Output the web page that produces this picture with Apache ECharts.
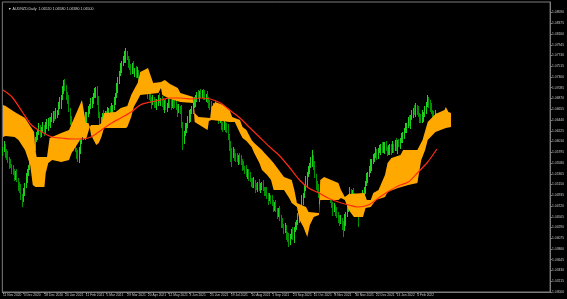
<!DOCTYPE html>
<html><head><meta charset="utf-8">
<script src="https://cdn.jsdelivr.net/npm/echarts@6/dist/echarts.min.js"></script>
<style>html,body{margin:0;padding:0;background:#000;}#c{width:567px;height:299px;}</style>
</head><body><div id="c"></div>
<script>
const titleText = '\u25BC AUDNZD,Daily  1.06520 1.06580 1.06380 1.06500';
const lastPrice = 1.0650;
const tickLabels = ['11 Nov 2020','3 Dec 2020','28 Dec 2020','20 Jan 2021','11 Feb 2021','5 Mar 2021','29 Mar 2021','20 Apr 2021','12 May 2021','3 Jun 2021','25 Jun 2021','19 Jul 2021','10 Aug 2021','1 Sep 2021','23 Sep 2021','15 Oct 2021','8 Nov 2021','30 Nov 2021','22 Dec 2021','13 Jan 2022','4 Feb 2022'];
const barsPerLabel = 16;
const slotCount = 423;

const opens = [
1.0580,1.0584,1.0592,1.0578,1.0570,1.0564,1.0558,1.0552,1.0544,1.0540,
1.0532,1.0536,1.0524,1.0512,1.0504,1.0490,1.0484,1.0500,1.0514,1.0528,
1.0540,1.0548,1.0554,1.0568,1.0584,1.0594,1.0604,1.0612,1.0620,1.0628,
1.0618,1.0624,1.0630,1.0622,1.0632,1.0634,1.0642,1.0636,1.0646,1.0648,
1.0656,1.0650,1.0658,1.0660,1.0672,1.0678,1.0688,1.0704,1.0716,1.0708,
1.0694,1.0684,1.0664,1.0644,1.0628,1.0610,1.0594,1.0584,1.0574,1.0568,
1.0584,1.0600,1.0614,1.0628,1.0636,1.0648,1.0654,1.0664,1.0672,1.0678,
1.0684,1.0692,1.0698,1.0704,1.0680,1.0654,1.0634,1.0642,1.0654,1.0648,
1.0656,1.0652,1.0660,1.0664,1.0658,1.0666,1.0668,1.0682,1.0694,1.0708,
1.0724,1.0736,1.0748,1.0758,1.0764,1.0770,1.0774,1.0768,1.0756,1.0750,
1.0744,1.0752,1.0740,1.0744,1.0734,1.0738,1.0730,1.0728,1.0724,1.0716,
1.0720,1.0714,1.0704,1.0696,1.0690,1.0684,1.0678,1.0686,1.0676,1.0674,
1.0680,1.0688,1.0682,1.0684,1.0676,1.0670,1.0678,1.0668,1.0674,1.0682,
1.0678,1.0672,1.0680,1.0676,1.0674,1.0670,1.0662,1.0668,1.0664,1.0634,
1.0604,1.0616,1.0628,1.0634,1.0644,1.0652,1.0660,1.0664,1.0674,1.0680,
1.0688,1.0694,1.0690,1.0698,1.0694,1.0700,1.0696,1.0688,1.0692,1.0684,
1.0678,1.0672,1.0668,1.0664,1.0670,1.0662,1.0660,1.0652,1.0644,1.0648,
1.0634,1.0628,1.0636,1.0630,1.0624,1.0610,1.0594,1.0584,1.0574,1.0580,
1.0572,1.0568,1.0564,1.0570,1.0562,1.0560,1.0554,1.0548,1.0544,1.0536,
1.0540,1.0530,1.0524,1.0520,1.0514,1.0518,1.0510,1.0508,1.0516,1.0508,
1.0512,1.0514,1.0506,1.0502,1.0498,1.0492,1.0486,1.0490,1.0484,1.0478,
1.0470,1.0474,1.0464,1.0456,1.0460,1.0448,1.0440,1.0432,1.0424,1.0428,
1.0414,1.0408,1.0404,1.0412,1.0418,1.0410,1.0424,1.0432,1.0440,1.0448,
1.0454,1.0468,1.0484,1.0494,1.0508,1.0520,1.0534,1.0544,1.0554,1.0560,
1.0568,1.0552,1.0532,1.0514,1.0504,1.0494,1.0488,1.0496,1.0492,1.0500,
1.0504,1.0498,1.0502,1.0494,1.0484,1.0474,1.0464,1.0470,1.0460,1.0454,
1.0448,1.0440,1.0444,1.0434,1.0428,1.0444,1.0454,1.0468,1.0484,1.0500,
1.0492,1.0498,1.0494,1.0484,1.0472,1.0464,1.0454,1.0460,1.0476,1.0494,
1.0504,1.0516,1.0528,1.0536,1.0544,1.0554,1.0560,1.0568,1.0574,1.0580,
1.0574,1.0582,1.0584,1.0592,1.0584,1.0588,1.0594,1.0586,1.0580,1.0584,
1.0590,1.0582,1.0592,1.0588,1.0596,1.0588,1.0598,1.0594,1.0604,1.0608,
1.0614,1.0622,1.0628,1.0634,1.0642,1.0638,1.0648,1.0656,1.0664,1.0660,
1.0668,1.0662,1.0654,1.0648,1.0644,1.0652,1.0654,1.0664,1.0676,1.0684,
1.0678,1.0668,1.0660,1.0654,1.0646,1.0652];

const closes = [
1.0584,1.0592,1.0578,1.0570,1.0564,1.0558,1.0552,1.0544,1.0540,1.0532,
1.0536,1.0524,1.0512,1.0504,1.0490,1.0484,1.0500,1.0514,1.0528,1.0540,
1.0548,1.0554,1.0568,1.0584,1.0594,1.0604,1.0612,1.0620,1.0628,1.0618,
1.0624,1.0630,1.0622,1.0632,1.0634,1.0642,1.0636,1.0646,1.0648,1.0656,
1.0650,1.0658,1.0660,1.0672,1.0678,1.0688,1.0704,1.0716,1.0708,1.0694,
1.0684,1.0664,1.0644,1.0628,1.0610,1.0594,1.0584,1.0574,1.0568,1.0584,
1.0600,1.0614,1.0628,1.0636,1.0648,1.0654,1.0664,1.0672,1.0678,1.0684,
1.0692,1.0698,1.0704,1.0680,1.0654,1.0634,1.0642,1.0654,1.0648,1.0656,
1.0652,1.0660,1.0664,1.0658,1.0666,1.0668,1.0682,1.0694,1.0708,1.0724,
1.0736,1.0748,1.0758,1.0764,1.0770,1.0774,1.0768,1.0756,1.0750,1.0744,
1.0752,1.0740,1.0744,1.0734,1.0738,1.0730,1.0728,1.0724,1.0716,1.0720,
1.0714,1.0704,1.0696,1.0690,1.0684,1.0678,1.0686,1.0676,1.0674,1.0680,
1.0688,1.0682,1.0684,1.0676,1.0670,1.0678,1.0668,1.0674,1.0682,1.0678,
1.0672,1.0680,1.0676,1.0674,1.0670,1.0662,1.0668,1.0664,1.0634,1.0604,
1.0616,1.0628,1.0634,1.0644,1.0652,1.0660,1.0664,1.0674,1.0680,1.0688,
1.0694,1.0690,1.0698,1.0694,1.0700,1.0696,1.0688,1.0692,1.0684,1.0678,
1.0672,1.0668,1.0664,1.0670,1.0662,1.0660,1.0652,1.0644,1.0648,1.0634,
1.0628,1.0636,1.0630,1.0624,1.0610,1.0594,1.0584,1.0574,1.0580,1.0572,
1.0568,1.0564,1.0570,1.0562,1.0560,1.0554,1.0548,1.0544,1.0536,1.0540,
1.0530,1.0524,1.0520,1.0514,1.0518,1.0510,1.0508,1.0516,1.0508,1.0512,
1.0514,1.0506,1.0502,1.0498,1.0492,1.0486,1.0490,1.0484,1.0478,1.0470,
1.0474,1.0464,1.0456,1.0460,1.0448,1.0440,1.0432,1.0424,1.0428,1.0414,
1.0408,1.0404,1.0412,1.0418,1.0410,1.0424,1.0432,1.0440,1.0448,1.0454,
1.0468,1.0484,1.0494,1.0508,1.0520,1.0534,1.0544,1.0554,1.0560,1.0568,
1.0552,1.0532,1.0514,1.0504,1.0494,1.0488,1.0496,1.0492,1.0500,1.0504,
1.0498,1.0502,1.0494,1.0484,1.0474,1.0464,1.0470,1.0460,1.0454,1.0448,
1.0440,1.0444,1.0434,1.0428,1.0444,1.0454,1.0468,1.0484,1.0500,1.0492,
1.0498,1.0494,1.0484,1.0472,1.0464,1.0454,1.0460,1.0476,1.0494,1.0504,
1.0516,1.0528,1.0536,1.0544,1.0554,1.0560,1.0568,1.0574,1.0580,1.0574,
1.0582,1.0584,1.0592,1.0584,1.0588,1.0594,1.0586,1.0580,1.0584,1.0590,
1.0582,1.0592,1.0588,1.0596,1.0588,1.0598,1.0594,1.0604,1.0608,1.0614,
1.0622,1.0628,1.0634,1.0642,1.0638,1.0648,1.0656,1.0664,1.0660,1.0668,
1.0662,1.0654,1.0648,1.0644,1.0652,1.0654,1.0664,1.0676,1.0684,1.0678,
1.0668,1.0660,1.0654,1.0646,1.0652,1.0650];

const lows = [
1.0572,1.0580,1.0568,1.0564,1.0558,1.0546,1.0548,1.0536,1.0534,1.0522,
1.0524,1.0520,1.0502,1.0498,1.0484,1.0470,1.0480,1.0492,1.0508,1.0518,
1.0532,1.0544,1.0544,1.0562,1.0578,1.0582,1.0600,1.0604,1.0614,1.0608,
1.0610,1.0620,1.0612,1.0616,1.0626,1.0622,1.0632,1.0628,1.0640,1.0638,
1.0642,1.0646,1.0648,1.0654,1.0666,1.0666,1.0684,1.0696,1.0702,1.0684,
1.0676,1.0660,1.0634,1.0622,1.0604,1.0582,1.0580,1.0566,1.0560,1.0558,
1.0576,1.0596,1.0604,1.0622,1.0630,1.0636,1.0650,1.0656,1.0666,1.0668,
1.0676,1.0688,1.0688,1.0674,1.0648,1.0622,1.0630,1.0634,1.0642,1.0638,
1.0644,1.0648,1.0650,1.0652,1.0652,1.0654,1.0664,1.0674,1.0688,1.0698,
1.0716,1.0732,1.0738,1.0752,1.0758,1.0758,1.0764,1.0748,1.0744,1.0734,
1.0736,1.0736,1.0730,1.0728,1.0728,1.0718,1.0724,1.0716,1.0710,1.0706,
1.0706,1.0700,1.0686,1.0684,1.0678,1.0666,1.0674,1.0668,1.0668,1.0664,
1.0672,1.0678,1.0672,1.0670,1.0664,1.0658,1.0664,1.0660,1.0668,1.0668,
1.0664,1.0668,1.0666,1.0668,1.0664,1.0650,1.0658,1.0656,1.0628,1.0584,
1.0596,1.0612,1.0618,1.0628,1.0638,1.0640,1.0656,1.0656,1.0668,1.0670,
1.0680,1.0686,1.0680,1.0688,1.0688,1.0684,1.0684,1.0680,1.0678,1.0668,
1.0664,1.0664,1.0654,1.0658,1.0656,1.0648,1.0648,1.0636,1.0638,1.0624,
1.0620,1.0624,1.0620,1.0618,1.0604,1.0582,1.0560,1.0550,1.0568,1.0562,
1.0560,1.0560,1.0554,1.0556,1.0554,1.0542,1.0544,1.0536,1.0530,1.0526,
1.0522,1.0520,1.0510,1.0508,1.0508,1.0498,1.0504,1.0500,1.0502,1.0498,
1.0504,1.0502,1.0492,1.0492,1.0486,1.0474,1.0482,1.0476,1.0472,1.0460,
1.0462,1.0460,1.0446,1.0450,1.0442,1.0428,1.0428,1.0416,1.0418,1.0404,
1.0400,1.0390,1.0394,1.0406,1.0404,1.0398,1.0420,1.0424,1.0434,1.0438,
1.0446,1.0464,1.0474,1.0488,1.0502,1.0508,1.0530,1.0536,1.0548,1.0550,
1.0544,1.0528,1.0504,1.0498,1.0488,1.0476,1.0484,1.0484,1.0486,1.0490,
1.0490,1.0494,1.0484,1.0478,1.0468,1.0452,1.0460,1.0452,1.0448,1.0438,
1.0432,1.0436,1.0424,1.0410,1.0422,1.0432,1.0450,1.0460,1.0478,1.0482,
1.0484,1.0490,1.0474,1.0466,1.0458,1.0430,1.0450,1.0452,1.0470,1.0484,
1.0496,1.0512,1.0518,1.0530,1.0538,1.0542,1.0556,1.0560,1.0568,1.0564,
1.0566,1.0578,1.0574,1.0578,1.0578,1.0576,1.0582,1.0572,1.0574,1.0574,
1.0574,1.0578,1.0578,1.0582,1.0582,1.0576,1.0590,1.0586,1.0598,1.0598,
1.0606,1.0618,1.0618,1.0628,1.0632,1.0626,1.0644,1.0648,1.0654,1.0650,
1.0654,1.0650,1.0638,1.0638,1.0638,1.0640,1.0650,1.0656,1.0670,1.0668,
1.0660,1.0656,1.0644,1.0640,1.0640,1.0638];

const highs = [
1.0590,1.0602,1.0596,1.0586,1.0582,1.0570,1.0566,1.0556,1.0554,1.0546,
1.0542,1.0546,1.0528,1.0520,1.0516,1.0496,1.0508,1.0518,1.0538,1.0546,
1.0554,1.0564,1.0572,1.0592,1.0606,1.0610,1.0620,1.0624,1.0638,1.0634,
1.0630,1.0640,1.0634,1.0640,1.0646,1.0648,1.0650,1.0650,1.0658,1.0662,
1.0662,1.0668,1.0664,1.0680,1.0690,1.0694,1.0712,1.0724,1.0726,1.0714,
1.0700,1.0694,1.0668,1.0652,1.0640,1.0616,1.0602,1.0588,1.0584,1.0590,
1.0606,1.0624,1.0632,1.0644,1.0660,1.0660,1.0672,1.0676,1.0688,1.0690,
1.0698,1.0708,1.0710,1.0712,1.0692,1.0660,1.0650,1.0658,1.0664,1.0662,
1.0662,1.0670,1.0668,1.0672,1.0678,1.0674,1.0690,1.0698,1.0718,1.0730,
1.0742,1.0758,1.0762,1.0772,1.0782,1.0788,1.0782,1.0772,1.0766,1.0756,
1.0758,1.0762,1.0748,1.0752,1.0750,1.0744,1.0738,1.0732,1.0734,1.0726,
1.0726,1.0724,1.0708,1.0704,1.0702,1.0690,1.0694,1.0690,1.0686,1.0686,
1.0694,1.0698,1.0688,1.0692,1.0688,1.0684,1.0686,1.0678,1.0692,1.0688,
1.0684,1.0690,1.0684,1.0684,1.0686,1.0676,1.0676,1.0672,1.0674,1.0640,
1.0622,1.0638,1.0638,1.0652,1.0664,1.0666,1.0672,1.0678,1.0690,1.0694,
1.0700,1.0704,1.0702,1.0706,1.0704,1.0706,1.0704,1.0696,1.0702,1.0690,
1.0684,1.0682,1.0672,1.0678,1.0682,1.0668,1.0668,1.0656,1.0658,1.0654,
1.0640,1.0646,1.0640,1.0638,1.0636,1.0616,1.0602,1.0588,1.0590,1.0586,
1.0578,1.0578,1.0574,1.0578,1.0574,1.0566,1.0562,1.0552,1.0554,1.0546,
1.0546,1.0540,1.0528,1.0528,1.0530,1.0524,1.0518,1.0520,1.0526,1.0518,
1.0520,1.0524,1.0510,1.0510,1.0510,1.0498,1.0498,1.0494,1.0494,1.0484,
1.0480,1.0484,1.0468,1.0468,1.0472,1.0454,1.0448,1.0436,1.0438,1.0434,
1.0420,1.0418,1.0416,1.0426,1.0430,1.0430,1.0440,1.0444,1.0458,1.0460,
1.0474,1.0494,1.0498,1.0516,1.0532,1.0540,1.0552,1.0558,1.0570,1.0584,
1.0574,1.0562,1.0536,1.0522,1.0516,1.0500,1.0504,1.0500,1.0510,1.0510,
1.0510,1.0512,1.0506,1.0502,1.0496,1.0480,1.0478,1.0474,1.0470,1.0460,
1.0454,1.0454,1.0448,1.0442,1.0456,1.0460,1.0476,1.0488,1.0510,1.0506,
1.0504,1.0508,1.0498,1.0492,1.0484,1.0470,1.0468,1.0480,1.0504,1.0510,
1.0522,1.0538,1.0540,1.0552,1.0566,1.0566,1.0576,1.0578,1.0590,1.0586,
1.0588,1.0594,1.0596,1.0600,1.0600,1.0600,1.0602,1.0590,1.0594,1.0596,
1.0596,1.0602,1.0596,1.0604,1.0608,1.0604,1.0606,1.0608,1.0618,1.0620,
1.0628,1.0638,1.0638,1.0650,1.0654,1.0654,1.0664,1.0668,1.0674,1.0678,
1.0674,1.0672,1.0658,1.0656,1.0664,1.0660,1.0672,1.0680,1.0694,1.0690,
1.0684,1.0678,1.0664,1.0662,1.0664,1.0658];

// Cloud envelope: [bar index, price]
const cloudTop = [[0,1.0674],[2,1.0672],[9,1.0660],[17,1.0648],[24,1.0620],[25,1.0584],[26,1.0570],[34,1.0570],[36,1.0608],[45,1.0618],[51,1.0624],[61,1.0684],[64,1.0638],[66,1.0638],[67,1.0630],[68,1.0634],[74,1.0634],[76,1.0638],[78,1.0658],[87,1.0660],[91,1.0668],[96,1.0672],[99,1.0694],[101,1.0704],[104,1.0718],[106,1.0740],[112,1.0748],[116,1.0718],[122,1.0720],[125,1.0724],[129,1.0716],[135,1.0708],[137,1.0698],[147,1.0690],[148,1.0658],[151,1.0650],[160,1.0648],[161,1.0670],[164,1.0680],[170,1.0674],[175,1.0664],[177,1.0650],[183,1.0644],[185,1.0630],[188,1.0624],[192,1.0604],[194,1.0598],[200,1.0584],[202,1.0578],[207,1.0564],[209,1.0558],[213,1.0544],[217,1.0530],[223,1.0524],[225,1.0504],[227,1.0478],[234,1.0470],[236,1.0460],[244,1.0458],[245,1.0524],[248,1.0530],[259,1.0518],[261,1.0504],[264,1.0490],[267,1.0496],[279,1.0498],[281,1.0484],[284,1.0484],[286,1.0498],[290,1.0504],[295,1.0534],[297,1.0558],[300,1.0568],[307,1.0574],[309,1.0584],[320,1.0584],[324,1.0604],[328,1.0640],[334,1.0656],[341,1.0664],[342,1.0670],[344,1.0660],[346,1.0658]];
const cloudBottom = [[0,1.0610],[2,1.0612],[9,1.0610],[12,1.0604],[17,1.0584],[21,1.0554],[23,1.0514],[25,1.0510],[32,1.0510],[33,1.0538],[35,1.0558],[38,1.0564],[45,1.0560],[51,1.0564],[53,1.0578],[61,1.0610],[64,1.0604],[67,1.0630],[68,1.0614],[72,1.0594],[74,1.0598],[76,1.0610],[78,1.0628],[95,1.0628],[96,1.0630],[99,1.0650],[101,1.0670],[104,1.0684],[106,1.0694],[120,1.0698],[122,1.0708],[123,1.0694],[129,1.0686],[137,1.0680],[147,1.0678],[148,1.0640],[158,1.0624],[159,1.0642],[161,1.0644],[175,1.0640],[179,1.0640],[183,1.0618],[185,1.0608],[188,1.0602],[192,1.0590],[194,1.0578],[198,1.0558],[200,1.0544],[204,1.0534],[207,1.0524],[209,1.0504],[217,1.0504],[221,1.0488],[223,1.0478],[227,1.0470],[229,1.0444],[232,1.0430],[235,1.0410],[237,1.0434],[240,1.0450],[244,1.0454],[245,1.0484],[259,1.0484],[261,1.0488],[264,1.0484],[267,1.0464],[271,1.0450],[278,1.0450],[280,1.0468],[284,1.0470],[288,1.0484],[295,1.0490],[297,1.0500],[305,1.0508],[313,1.0514],[320,1.0518],[323,1.0564],[326,1.0584],[328,1.0604],[334,1.0620],[342,1.0628],[346,1.0630]];

// Moving average (red line): [bar index, price]
const maLine = [[0,1.0704],[7,1.0690],[15,1.0660],[22,1.0634],[30,1.0620],[38,1.0610],[45,1.0608],[53,1.0606],[61,1.0606],[68,1.0610],[76,1.0624],[84,1.0638],[91,1.0648],[99,1.0660],[106,1.0674],[114,1.0680],[122,1.0684],[129,1.0688],[137,1.0688],[145,1.0686],[152,1.0688],[160,1.0686],[168,1.0678],[175,1.0664],[183,1.0648],[190,1.0630],[198,1.0610],[206,1.0590],[213,1.0574],[221,1.0550],[229,1.0524],[236,1.0508],[244,1.0498],[251,1.0488],[259,1.0480],[267,1.0474],[274,1.0470],[282,1.0474],[290,1.0488],[297,1.0500],[305,1.0512],[313,1.0520],[320,1.0538],[328,1.0560],[333,1.0578],[335,1.0586]];

const slots = Array.from({length: slotCount}, (_, i) => String(i));
const candles = opens.map((o, i) => [o, closes[i], lows[i], highs[i]]);
const isLabel = (i) => i % barsPerLabel === 0 && i / barsPerLabel < tickLabels.length;
const txt = '#c8c8c8', frame = '#7c7c7c', fnt = 'Liberation Sans';

const chart = echarts.init(document.getElementById('c'), null, {renderer: 'canvas'});
chart.setOption({
  backgroundColor: '#000000',
  animation: false,
  title: {text: titleText, left: 3, top: 2, textStyle: {color: '#d8d8d8', fontSize: 3.6, fontWeight: 'normal', fontFamily: fnt}},
  grid: {left: 0, right: 13, top: 2, bottom: 7, show: true, borderColor: frame, borderWidth: 1},
  xAxis: {
    type: 'category', data: slots, boundaryGap: true,
    axisLine: {show: true, lineStyle: {color: frame, width: 1}},
    axisTick: {show: true, alignWithLabel: true, interval: (i) => isLabel(i), length: 2, lineStyle: {color: frame}},
    axisLabel: {interval: (i) => isLabel(i), formatter: (v, i) => tickLabels[i / barsPerLabel], align: 'left', margin: 1.5, color: txt, fontSize: 3.3, fontFamily: fnt},
    splitLine: {show: false}
  },
  yAxis: {
    type: 'value', position: 'right', min: 1.0300, max: 1.0880, interval: 0.00215,
    axisLine: {show: true, lineStyle: {color: frame, width: 1}},
    axisTick: {show: true, length: 2, lineStyle: {color: frame}},
    axisLabel: {formatter: (v) => v.toFixed(5), margin: 2, color: txt, fontSize: 3.3, fontFamily: fnt, showMaxLabel: false},
    splitLine: {show: false}
  },
  series: [
    {
      type: 'candlestick', data: candles, z: 1, barWidth: 1,
      itemStyle: {color: '#008a00', color0: '#004400', borderColor: '#1ed01e', borderColor0: '#009200', borderWidth: 1},
      markLine: {
        silent: true, symbol: ['none', 'none'],
        lineStyle: {opacity: 0},
        label: {show: true, position: 'end', distance: 1, formatter: lastPrice.toFixed(5), backgroundColor: '#ffffff', color: '#000000', fontSize: 3.3, fontFamily: fnt, padding: [0.6, 2, 0.4, 1]},
        data: [{yAxis: lastPrice}]
      }
    },
    {
      type: 'custom', z: 2, silent: true,
      data: [[0, cloudTop[0][1]]],
      renderItem: (params, api) => {
        const pts = cloudTop.map(p => api.coord(p)).concat(cloudBottom.slice().reverse().map(p => api.coord(p)));
        return {type: 'polygon', shape: {points: pts}, style: {fill: '#ffa800', stroke: null}};
      }
    },
    {
      type: 'line', data: maLine, z: 3, smooth: 0.3, showSymbol: false, silent: true,
      lineStyle: {color: '#ff2a14', width: 1.2}
    }
  ]
});
</script>
</body></html>
